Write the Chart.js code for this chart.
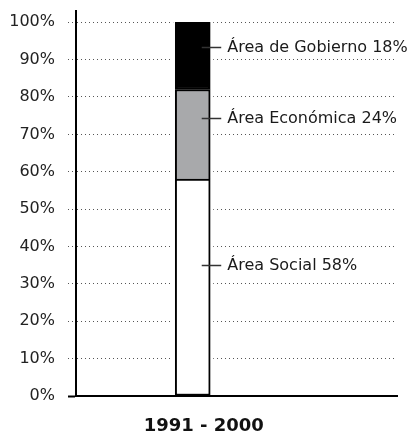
<!DOCTYPE html>
<html>
<head>
<meta charset="utf-8">
<script src="https://cdn.jsdelivr.net/npm/chart.js@4"></script>
<style>
  body { margin: 0; background: #fff; }
  #wrap { width: 410px; height: 432px; }
</style>
</head>
<body>
<div id="wrap"><canvas id="barChart" width="410" height="432"></canvas></div>
<script>
// data
const categories = ['1991 - 2000'];
const social = [58];
const economica = [24];
const gobierno = [18];
const seriesNames = ['Área Social', 'Área Económica', 'Área de Gobierno'];
const yTicks = [0, 10, 20, 30, 40, 50, 60, 70, 80, 90, 100];

// where each callout sits on the y scale (in %)
const calloutAt = [35, 74.5, 93.4];

const font = 'DejaVu Sans';

const toPoints = (arr) => arr.map((v, i) => ({ x: i + 1, y: v }));
const isZero = (c) => c.tick && c.tick.value === 0;

// white margin around the column so the dotted grid stops short of it
const barGap = {
    id: 'barGap',
    beforeDatasetsDraw(chart) {
        const ctx = chart.ctx;
        const first = chart.getDatasetMeta(0).data[0];
        const last = chart.getDatasetMeta(2).data[0];
        ctx.save();
        ctx.fillStyle = '#fff';
        ctx.fillRect(first.x - first.width / 2 - 3, last.y, first.width + 6, first.base - last.y - 1);
        ctx.restore();
    }
};

const callouts = {
    id: 'callouts',
    afterDatasetsDraw(chart) {
        const ctx = chart.ctx;
        const y = chart.scales.y;
        const series = [social, economica, gobierno];
        ctx.save();
        series.forEach((s, d) => {
            const bar = chart.getDatasetMeta(d).data[0];
            const py = Math.round(y.getPixelForValue(calloutAt[d])) + 0.5;
            const right = bar.x + bar.width / 2;
            ctx.strokeStyle = '#333';
            ctx.lineWidth = 1.5;
            ctx.beginPath();
            ctx.moveTo(bar.x + 9, py);
            ctx.lineTo(right + 11, py);
            ctx.stroke();
            ctx.fillStyle = '#1a1a1a';
            ctx.font = '16px "' + font + '"';
            ctx.textAlign = 'left';
            ctx.textBaseline = 'middle';
            ctx.fillText(seriesNames[d] + ' ' + s[0] + '%', right + 17, py);
        });
        ctx.restore();
    }
};

const ctx = document.getElementById('barChart').getContext('2d');
const myChart = new Chart(ctx, {
    type: 'bar',
    data: {
        datasets: [{
                label: seriesNames[0],
                data: toPoints(social),
                backgroundColor: '#ffffff',
                borderColor: '#000000',
                borderWidth: 2,
                borderSkipped: false,
                barThickness: 35
            },
            {
                label: seriesNames[1],
                data: toPoints(economica),
                backgroundColor: '#a8a9ab',
                borderColor: '#000000',
                borderWidth: { left: 2, right: 2, top: 2, bottom: 0 },
                borderSkipped: false,
                barThickness: 35
            },
            {
                label: seriesNames[2],
                data: toPoints(gobierno),
                backgroundColor: '#000000',
                borderColor: '#000000',
                borderWidth: 2,
                borderSkipped: false,
                barThickness: 35
            }
        ]
    },
    options: {
        responsive: false,
        animation: false,
        layout: { padding: { top: 11, right: 13, left: 0, bottom: 0 } },
        plugins: {
            legend: { display: false },
            tooltip: { enabled: false }
        },
        scales: {
            x: {
                type: 'linear',
                stacked: true,
                offset: false,
                min: 0,
                max: 2.75,
                afterFit: (scale) => { scale.height = 36; },
                border: { color: '#000', width: 2 },
                grid: {
                    drawOnChartArea: false,
                    tickLength: 8,
                    lineWidth: 2,
                    color: (c) => (isZero(c) ? '#000' : 'rgba(0,0,0,0)')
                },
                ticks: {
                    stepSize: 1,
                    autoSkip: false,
                    maxRotation: 0,
                    padding: 12,
                    labelOffset: 11,
                    color: '#111',
                    font: { family: font, size: 18, weight: 'bold' },
                    callback: (v) => categories[v - 1] || ''
                }
            },
            y: {
                stacked: true,
                min: 0,
                max: 103,
                afterBuildTicks: (scale) => {
                    scale.ticks = yTicks.map((v) => ({ value: v }));
                },
                afterFit: (scale) => {
                    scale.width = 76;
                    scale.paddingTop = 0;
                },
                border: {
                    color: '#000',
                    width: 2,
                    dash: (c) => (isZero(c) ? [] : [1, 3])
                },
                grid: {
                    color: (c) => (isZero(c) ? '#000' : '#555'),
                    lineWidth: 1,
                    tickLength: 8,
                    tickColor: (c) => (isZero(c) ? '#000' : '#555'),
                    tickWidth: (c) => (isZero(c) ? 2 : 1),
                    tickBorderDash: (c) => (isZero(c) ? [] : [1, 3])
                },
                ticks: {
                    padding: 13,
                    color: '#222',
                    font: { family: font, size: 16 },
                    callback: (v) => v + '%'
                }
            }
        }
    },
    plugins: [barGap, callouts]
});
</script>
</body>
</html>
